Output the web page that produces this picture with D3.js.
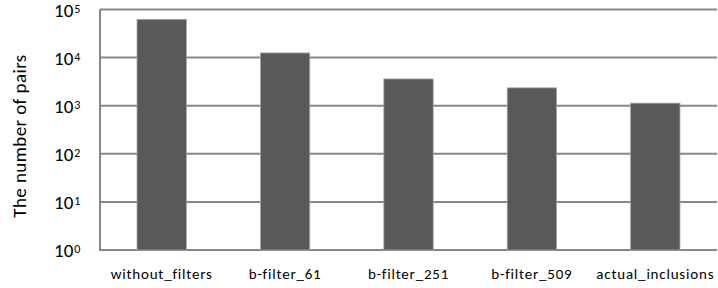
<!DOCTYPE html>
<html><head><meta charset="utf-8">
<script src="https://cdn.jsdelivr.net/npm/d3@7"></script>
<style>body{margin:0;background:#fff}svg{display:block}</style>
</head><body>
<svg id="c" width="718" height="288"></svg>
<script>
const categories = ["without_filters","b-filter_61","b-filter_251","b-filter_509","actual_inclusions"];
const values = [62500, 12500, 3600, 2350, 1130];
const tickExps = [0,1,2,3,4,5];

const svg = d3.select("#c");
const m = {left:100, right:1, top:9.5, bottom:38};
const W = 718, H = 288;
const x = d3.scaleBand().domain(categories).range([m.left, W - m.right]).paddingInner(0.6).paddingOuter(0.3);
const y = d3.scaleLog().domain([1, 1e5]).range([H - m.bottom, m.top]);
const font = "Carlito, Calibri, 'Open Sans', sans-serif";

// gridlines
svg.append("g").selectAll("line").data(tickExps).join("line")
  .attr("x1", m.left).attr("x2", W - m.right)
  .attr("y1", d => y(Math.pow(10,d))).attr("y2", d => y(Math.pow(10,d)))
  .attr("stroke", "#878787").attr("stroke-width", 2);
// left axis line
svg.append("line").attr("x1", m.left).attr("x2", m.left)
  .attr("y1", y(1e5)).attr("y2", y(1)+1).attr("stroke", "#878787").attr("stroke-width", 2);

// bars
svg.append("g").selectAll("rect").data(categories).join("rect")
  .attr("x", d => x(d)).attr("width", x.bandwidth())
  .attr("y", (d,i) => y(values[i])).attr("height", (d,i) => y(1) - y(values[i]))
  .attr("fill", "#595959").attr("stroke", "#a6a6a6").attr("stroke-width", 0.8);

// y tick labels
const yt = svg.append("g").selectAll("text").data(tickExps).join("text")
  .attr("x", 54).attr("y", d => y(Math.pow(10,d)) + 7)
  .attr("text-anchor", "start")
  .attr("font-family", font).attr("font-size", 19).attr("fill", "#000");
yt.append("tspan").text("10");
yt.append("tspan").attr("font-size", 12).attr("dx", 1).attr("dy", -4).text(d => d);

// x labels
svg.append("g").selectAll("text").data(categories).join("text")
  .attr("x", d => x(d) + x.bandwidth()/2).attr("y", 279)
  .attr("text-anchor", "middle")
  .attr("font-family", font).attr("font-size", 15).attr("letter-spacing", 0.8).attr("fill", "#000")
  .text(d => d);

// y title
svg.append("text").attr("transform", "translate(26,136) rotate(-90)")
  .attr("text-anchor", "middle").attr("font-family", font).attr("font-size", 19)
  .attr("letter-spacing", 0.4)
  .attr("fill", "#000").text("The number of pairs");
</script>
</body></html>
